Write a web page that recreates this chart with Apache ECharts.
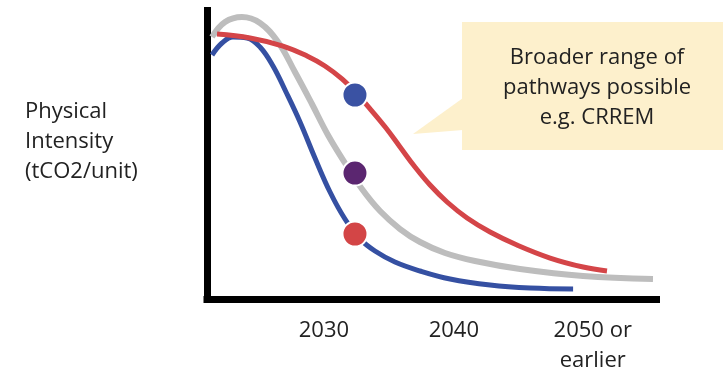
<!DOCTYPE html>
<html>
<head>
<meta charset="utf-8">
<script src="https://cdn.jsdelivr.net/npm/echarts@6/dist/echarts.min.js"></script>
<style>
  html, body { margin: 0; padding: 0; background: #fff; }
  #chart { width: 723px; height: 372px; }
</style>
</head>
<body>
<div id="chart"></div>
<script>
// Decarbonisation pathways: physical intensity against year
const tickYears = [2030, 2040, 2050];
const tickLabels = ['2030', '2040', '2050 or\nearlier'];

// Steepest pathway (blue)
const blueYears = [2021.385, 2022.155, 2023.0, 2024.08, 2025.08, 2026.08, 2027.08, 2028.16, 2029.31, 2030.47, 2031.62, 2032.78, 2033.93, 2035.47, 2037.4, 2039.71, 2042.79, 2045.87, 2049.18];
const blueValues = [84.58, 88.73, 90.81, 90.47, 87.35, 80.76, 71.75, 61.35, 48.87, 37.09, 27.73, 20.8, 16.64, 12.82, 9.71, 6.93, 4.85, 3.81, 3.47];

// Central pathway (grey)
const greyYears = [2021.385, 2022.39, 2023.69, 2025.08, 2026.47, 2027.77, 2029.08, 2030.31, 2031.62, 2032.93, 2034.32, 2035.86, 2037.4, 2039.32, 2041.63, 2045.1, 2049.95, 2055.33];
const greyValues = [90.81, 96.01, 97.75, 95.67, 89.08, 78.68, 67.59, 56.85, 47.14, 38.13, 30.5, 24.26, 19.76, 15.94, 13.17, 10.4, 7.97, 6.93];

// Slowest pathway (red)
const redYears = [2021.77, 2024.31, 2026.85, 2028.7, 2030.08, 2031.39, 2032.62, 2033.7, 2034.78, 2035.86, 2037.01, 2038.17, 2039.48, 2041.02, 2042.79, 2044.86, 2047.41, 2049.95, 2051.79];
const redValues = [91.85, 90.47, 87.69, 84.23, 80.76, 76.26, 70.71, 65.16, 59.27, 52.69, 45.75, 39.51, 33.62, 28.08, 23.22, 18.72, 14.21, 11.09, 9.71];

// Markers at the current year on each pathway
const dotYear = 2032.39;
const dotValues = [70.71, 43.67, 22.53];
const dotColors = ['#3a52a3', '#5b2670', '#d34546'];

const axisTitle = ['Physical', 'Intensity', '(tCO2/unit)'];
const calloutText = ['Broader range of', 'pathways possible', 'e.g. CRREM'];

const FONT = '"Open Sans", "Lato", sans-serif';
const FS = 22;

const zip = (xs, ys) => xs.map((x, i) => [x, ys[i]]);

const chart = echarts.init(document.getElementById('chart'), null, { renderer: 'canvas' });

const pathLine = (name, xs, ys, color, width, z) => ({
  type: 'line', name, data: zip(xs, ys), smooth: 0.4,
  showSymbol: false, z, silent: true,
  lineStyle: { color, width, cap: 'butt' }
});

chart.setOption({
  backgroundColor: '#ffffff',
  animation: false,
  grid: { left: 207, right: 66.5, top: 10.5, bottom: 73, outerBoundsMode: 'none', containLabel: false },
  xAxis: {
    type: 'value',
    min: 2021,
    max: 2055.6,
    splitLine: { show: false },
    axisTick: { show: false },
    axisLine: { show: true, lineStyle: { color: '#000', width: 7, cap: 'square' } },
    axisLabel: {
      customValues: tickYears,
      margin: 17,
      fontFamily: FONT,
      fontSize: FS,
      lineHeight: 30,
      color: '#222',
      formatter: function (v) {
        const i = tickYears.indexOf(v);
        const t = i >= 0 ? tickLabels[i] : '';
        if (t.indexOf('\n') >= 0) {
          return t.split('\n').map(s => '{s|' + s + '}').join('\n');
        }
        return t;
      },
      rich: {
        s: { fontFamily: FONT, fontSize: FS, lineHeight: 30, color: '#222', padding: [0, 0, 0, 18] }
      }
    }
  },
  yAxis: {
    type: 'value',
    min: 0,
    max: 100,
    splitLine: { show: false },
    axisTick: { show: false },
    axisLabel: { show: false },
    axisLine: { show: true, lineStyle: { color: '#000', width: 7, cap: 'square' } }
  },
  series: [
    pathLine('grey', greyYears, greyValues, '#bdbdbd', 6, 2),
    pathLine('blue', blueYears, blueValues, '#3550a2', 5, 3),
    pathLine('red', redYears, redValues, '#d44548', 5, 4),
    {
      type: 'scatter', name: 'markers', z: 6, silent: true,
      symbolSize: 25,
      data: dotValues.map((v, i) => ({
        value: [dotYear, v],
        itemStyle: { color: dotColors[i], opacity: 1, borderColor: '#fff', borderWidth: 2 }
      }))
    }
  ],
  graphic: [
    {
      type: 'text', left: 25, top: 97,
      style: {
        text: axisTitle.join('\n'), fontFamily: FONT, fontSize: FS, lineHeight: 30,
        fill: '#222', align: 'left'
      }
    },
    {
      type: 'group', z: 1,
      children: [
        { type: 'polygon', shape: { points: [[413, 134], [463, 98], [463, 130]] }, style: { fill: '#fdf0cc' } },
        { type: 'rect', shape: { x: 462, y: 22, width: 270, height: 128 }, style: { fill: '#fdf0cc' } },
        {
          type: 'text', x: 597, y: 88,
          style: {
            text: calloutText.join('\n'), fontFamily: FONT, fontSize: FS, lineHeight: 30,
            fill: '#222', align: 'center', verticalAlign: 'middle'
          }
        }
      ]
    }
  ]
});
</script>
</body>
</html>
